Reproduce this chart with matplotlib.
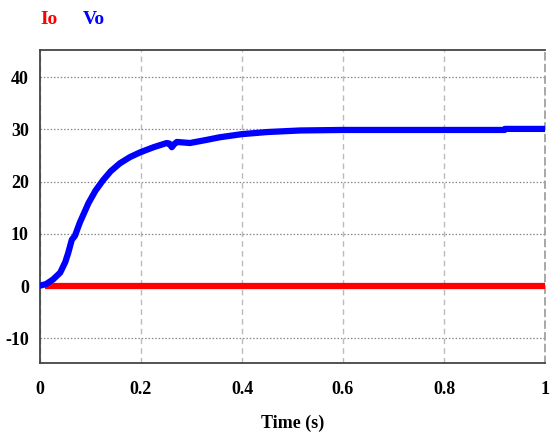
import matplotlib
import numpy as np

matplotlib.use('Agg')
import matplotlib.pyplot as plt

plt.rcParams['axes.unicode_minus'] = False

# values (time in s, volts / amps)
t_vo = [0.0, 0.012, 0.026, 0.04, 0.05, 0.056, 0.063, 0.069, 0.079, 0.096,
        0.11, 0.125, 0.14, 0.158, 0.178, 0.198, 0.225, 0.251, 0.256, 0.261,
        0.266, 0.271, 0.297, 0.33, 0.356, 0.4, 0.45, 0.515, 0.6, 0.7, 0.8,
        0.92, 0.921, 1.0]
vo = [0.1, 0.4, 1.3, 2.6, 4.6, 6.4, 8.9, 9.6, 12.2, 15.9,
      18.3, 20.3, 22.0, 23.5, 24.7, 25.6, 26.6, 27.4, 27.3, 26.6,
      27.2, 27.6, 27.4, 28.0, 28.5, 29.1, 29.5, 29.8, 29.9, 29.9, 29.9,
      29.9, 30.1, 30.1]
t_io = [0.01, 1.0]
io = [0.0, 0.0]

x_ticks = [0, 0.2, 0.4, 0.6, 0.8, 1]
x_labels = ['0', '0.2', '0.4', '0.6', '0.8', '1']
y_ticks = [40, 30, 20, 10, 0, -10]

FONT = 'Liberation Serif'

fig = plt.figure(figsize=(5.6, 4.38), dpi=100)
ax = fig.add_axes([40 / 560, 75 / 438, 505 / 560, 313 / 438])

ax.plot(t_io, io, '-', color='#ff0000', lw=4.5, solid_capstyle='butt', zorder=3)
ax.plot(t_vo, vo, '-', color='#0000ff', lw=4.5, solid_joinstyle='round', zorder=4)

ax.set_xlim(0, 1)
ax.set_ylim(-14.7, 45.2)
ax.set_xticks(x_ticks)
ax.set_xticklabels(x_labels)
ax.set_yticks(y_ticks)
ax.tick_params(length=0, pad=8, labelsize=13)
ax.tick_params(axis='x', pad=13)
for lab in ax.get_xticklabels() + ax.get_yticklabels():
    lab.set_fontfamily(FONT)
    lab.set_fontweight('bold')

ax.grid(True, axis='y', color='#888888', linestyle=(0, (1.2, 1.5)), lw=0.9)
ax.grid(True, axis='x', color='#bbbbbb', linestyle=(0, (4, 3)), lw=1.0)

for side in ['left', 'bottom', 'top']:
    ax.spines[side].set_color('#444444')
    ax.spines[side].set_linewidth(1.3)
ax.spines['right'].set_color('#999999')
ax.spines['right'].set_linestyle((0, (4, 3)))
ax.spines['right'].set_linewidth(1.2)

ax.set_xlabel('Time (s)', fontfamily=FONT, fontweight='bold', fontsize=13, labelpad=12)

fig.text(40 / 560, 1 - 19 / 438, 'Io', color='#ff0000', fontfamily=FONT,
         fontweight='bold', fontsize=14, va='center', ha='left')
fig.text(83 / 560, 1 - 19 / 438, 'Vo', color='#0000ff', fontfamily=FONT,
         fontweight='bold', fontsize=14, va='center', ha='left')

plt.savefig('out.png', dpi=100)
plt.close(fig)
